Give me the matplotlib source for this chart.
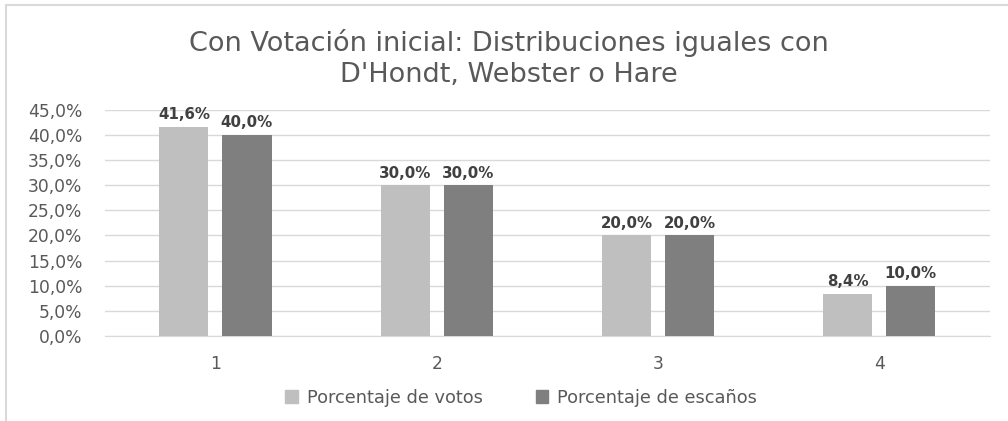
import matplotlib
matplotlib.use("Agg")
import matplotlib.pyplot as plt
from matplotlib.lines import Line2D
from matplotlib.patches import Patch
import numpy as np

plt.rcParams["font.family"] = ["DejaVu Sans"]

categories = ["1", "2", "3", "4"]
votos = [41.6, 30.0, 20.0, 8.4]
escanos = [40.0, 30.0, 20.0, 10.0]
series_names = ["Porcentaje de votos", "Porcentaje de escaños"]
title = "Con Votación inicial: Distribuciones iguales con\nD'Hondt, Webster o Hare"

c_light = "#BFBFBF"
c_dark = "#7F7F7F"
c_text = "#595959"
c_grid = "#D9D9D9"

fig = plt.figure(figsize=(10.08, 4.21), dpi=100)
ax = fig.add_axes([0.104, 0.202, 0.878, 0.537])

x = np.arange(len(categories))
w = 0.222
off = 0.1425
b1 = ax.bar(x - off, votos, w, color=c_light, zorder=3)
b2 = ax.bar(x + off, escanos, w, color=c_dark, zorder=3)

for bars, vals in ((b1, votos), (b2, escanos)):
    for r, v in zip(bars, vals):
        ax.text(r.get_x() + r.get_width() / 2, v + 0.9, f"{v:.1f}%".replace(".", ","),
                ha="center", va="bottom", fontsize=10.8, fontweight="bold", color="#404040")

ax.set_xlim(-0.5, 3.5)
ax.set_ylim(0, 45)
yt = np.arange(0, 46, 5)
ax.set_yticks(yt)
ax.set_yticklabels([f"{v:.1f}%".replace(".", ",") for v in yt])
ax.set_xticks(x)
ax.set_xticklabels(categories)
ax.tick_params(axis="both", length=0, labelsize=12.3, labelcolor=c_text)
ax.tick_params(axis="y", pad=16)
ax.tick_params(axis="x", pad=14)
ax.grid(axis="y", color=c_grid, linewidth=1, zorder=0)
for s in ["top", "right", "left"]:
    ax.spines[s].set_visible(False)
ax.spines["bottom"].set_color(c_grid)

fig.text(0.505, 0.862, title, ha="center", va="center", fontsize=19.5,
         color=c_text, linespacing=1.25)

handles = [Patch(color=c_light), Patch(color=c_dark)]
fig.legend(handles, series_names, loc="center", bbox_to_anchor=(0.517, 0.055), ncol=2,
           frameon=False, fontsize=12.8, labelcolor=c_text, handlelength=0.7,
           handleheight=0.7, handletextpad=0.5, columnspacing=3.0)

fig.add_artist(Line2D([0.006, 1.0], [0.988, 0.988], color=c_grid, linewidth=1.5,
                      transform=fig.transFigure))
fig.add_artist(Line2D([0.006, 0.006], [0.0, 0.988], color=c_grid, linewidth=1.5,
                      transform=fig.transFigure))

fig.savefig("out.png", dpi=100)
